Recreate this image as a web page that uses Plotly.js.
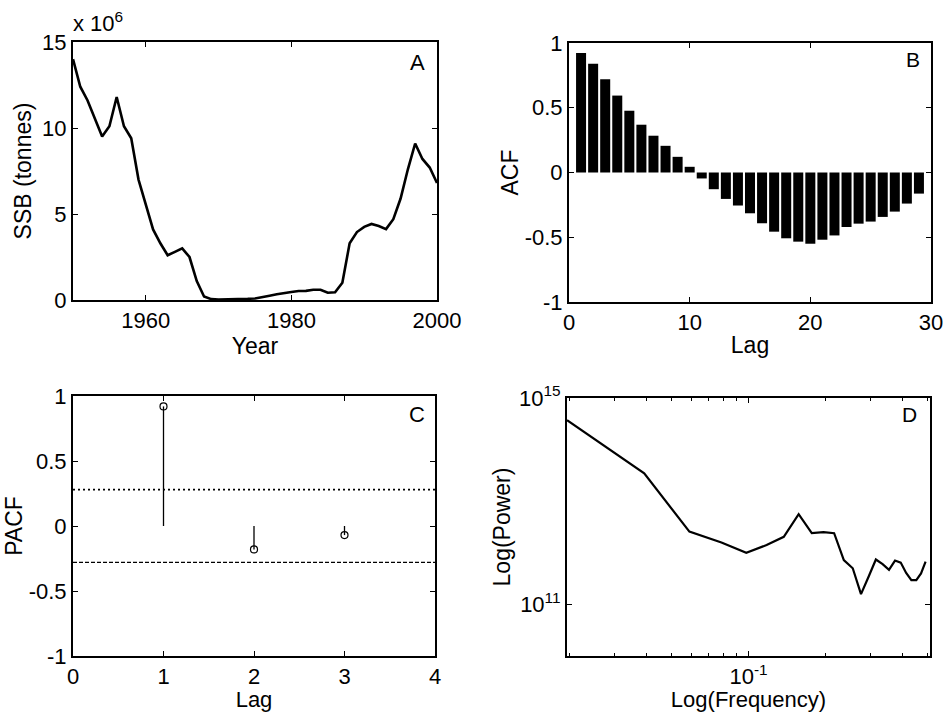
<!DOCTYPE html>
<html>
<head>
<meta charset="utf-8">
<script src="https://cdn.plot.ly/plotly-3.0.1.min.js"></script>
<style>html,body{margin:0;padding:0;background:#fff;}#chart{width:943px;height:712px;}</style>
</head>
<body>
<div id="chart"></div>
<script>
// Panel A: spawning stock biomass (x 10^6 tonnes)
const years = [1950,1951,1952,1953,1954,1955,1956,1957,1958,1959,1960,1961,1962,1963,1964,1965,1966,1967,1968,1969,1970,1971,1972,1973,1974,1975,1976,1977,1978,1979,1980,1981,1982,1983,1984,1985,1986,1987,1988,1989,1990,1991,1992,1993,1994,1995,1996,1997,1998,1999,2000];
const ssb = [14.0,12.4,11.6,10.6,9.5,10.1,11.8,10.1,9.4,7.0,5.5,4.1,3.3,2.6,2.8,3.0,2.5,1.1,0.2,0.05,0.03,0.03,0.04,0.05,0.07,0.09,0.15,0.25,0.33,0.42,0.47,0.52,0.53,0.6,0.6,0.42,0.45,1.0,3.3,3.95,4.25,4.42,4.3,4.12,4.7,5.9,7.6,9.1,8.2,7.7,6.8];

// Panel B: autocorrelation function
const acfLags = [1,2,3,4,5,6,7,8,9,10,11,12,13,14,15,16,17,18,19,20,21,22,23,24,25,26,27,28,29];
const acfValues = [0.922,0.839,0.72,0.594,0.477,0.369,0.284,0.206,0.121,0.044,-0.046,-0.129,-0.204,-0.255,-0.315,-0.392,-0.457,-0.508,-0.534,-0.55,-0.519,-0.486,-0.421,-0.395,-0.379,-0.343,-0.302,-0.24,-0.163];

// Panel C: partial autocorrelation function
const pacfLags = [1,2,3];
const pacfValues = [0.92,-0.18,-0.07];
const pacfConfUpper = 0.28;
const pacfConfLower = -0.28;
const pacfLagRange = [0,4];

// Panel D: power spectrum
const specK = [1,2,3,4,5,6,7,8,9,10,11,12,13,14,15,16,17,18,19,20,21,22,23,24,25];
const specN = 51;
const specLog10Power = [14.57,13.54,12.41,12.2,12.0,12.15,12.31,12.75,12.38,12.40,12.38,11.86,11.70,11.20,11.54,11.87,11.78,11.67,11.85,11.81,11.61,11.47,11.47,11.60,11.83];
const specFreq = specK.map(k => k / specN);
const specPower = specLog10Power.map(v => Math.pow(10, v));

// stems for PACF
const stemX = [], stemY = [];
pacfLags.forEach((l, i) => { stemX.push(l, l, null); stemY.push(0, pacfValues[i], null); });

const FONT = 'Liberation Sans, Arial, Helvetica, sans-serif';
const TICK = 22, TITLE = 23;
const W = 943, H = 712;
function dx(a, b) { return [a / W, b / W]; }
function dy(top, bottom) { return [1 - bottom / H, 1 - top / H]; }
function ttl(text, standoff, size) { return {text: text, standoff: standoff, font: {family: FONT, size: size || TITLE, color: 'black'}}; }

function ax(extra) {
  return Object.assign({
    showline: true, linecolor: 'black', linewidth: 2, mirror: 'ticks',
    ticks: 'inside', ticklen: 5, tickwidth: 1, tickcolor: 'black',
    showgrid: false, zeroline: false, automargin: false, ticklabeloverflow: 'allow',
    tickfont: {family: FONT, size: TICK, color: 'black'}
  }, extra);
}

const traces = [
  {x: years, y: ssb, type: 'scatter', mode: 'lines', line: {color: 'black', width: 2.6}, xaxis: 'x', yaxis: 'y', hoverinfo: 'skip'},
  {x: acfLags, y: acfValues, type: 'bar', marker: {color: 'black', line: {width: 0}}, width: 0.83, xaxis: 'x2', yaxis: 'y2', hoverinfo: 'skip'},
  {x: pacfLagRange, y: [pacfConfUpper, pacfConfUpper], type: 'scatter', mode: 'lines', line: {color: 'black', width: 1.8, dash: '2px,3px'}, xaxis: 'x3', yaxis: 'y3', hoverinfo: 'skip'},
  {x: pacfLagRange, y: [pacfConfLower, pacfConfLower], type: 'scatter', mode: 'lines', line: {color: 'black', width: 1.3, dash: '4px,2px'}, xaxis: 'x3', yaxis: 'y3', hoverinfo: 'skip'},
  {x: stemX, y: stemY, type: 'scatter', mode: 'lines', line: {color: 'black', width: 1.3}, xaxis: 'x3', yaxis: 'y3', hoverinfo: 'skip'},
  {x: pacfLags, y: pacfValues, type: 'scatter', mode: 'markers', marker: {symbol: 'circle-open', size: 7, color: 'black', line: {width: 1.2}}, xaxis: 'x3', yaxis: 'y3', hoverinfo: 'skip'},
  {x: specFreq, y: specPower, type: 'scatter', mode: 'lines', line: {color: 'black', width: 2.2}, xaxis: 'x4', yaxis: 'y4', hoverinfo: 'skip'}
];

const layout = {
  width: W, height: H,
  margin: {l: 0, r: 0, t: 0, b: 0},
  paper_bgcolor: 'white', plot_bgcolor: 'white',
  showlegend: false,
  font: {family: FONT, color: 'black'},
  xaxis: ax({domain: dx(73, 437), anchor: 'y', range: [1950, 2000], tickvals: [1960, 1980, 2000], title: ttl('Year', 2)}),
  yaxis: ax({domain: dy(42, 300), anchor: 'x', range: [0, 15], tickvals: [0, 5, 10, 15], title: ttl('SSB (tonnes)', 4)}),
  xaxis2: ax({domain: dx(569, 931), anchor: 'y2', range: [0, 30], tickvals: [0, 10, 20, 30], title: ttl('Lag', 2)}),
  yaxis2: ax({domain: dy(43, 302), anchor: 'x2', range: [-1, 1], tickvals: [-1, -0.5, 0, 0.5, 1], ticktext: ['-1', '-0.5', '0', '0.5', '1'], title: ttl('ACF', 0)}),
  xaxis3: ax({domain: dx(73, 435), anchor: 'y3', range: [0, 4], tickvals: [0, 1, 2, 3, 4], title: ttl('Lag', 5, 22)}),
  yaxis3: ax({domain: dy(396, 656), anchor: 'x3', range: [-1, 1], tickvals: [-1, -0.5, 0, 0.5, 1], ticktext: ['-1', '-0.5', '0', '0.5', '1'], title: ttl('PACF', 0)}),
  xaxis4: ax({domain: dx(567, 930), anchor: 'y4', type: 'log', range: [Math.log10(1 / 51), Math.log10(0.51)], tickvals: [0.1], ticktext: ['10<sup>-1</sup>'],
    minor: {tickvals: [0.02, 0.03, 0.04, 0.05, 0.06, 0.07, 0.08, 0.09, 0.2, 0.3, 0.4, 0.5], ticks: 'inside', ticklen: 3, tickcolor: 'black', tickwidth: 1},
    title: ttl('Log(Frequency)', 5, 22)}),
  yaxis4: ax({domain: dy(398, 656), anchor: 'x4', type: 'log', range: [10, 15], tickvals: [1e11, 1e15], ticktext: ['10<sup>11</sup>', '10<sup>15</sup>'], title: ttl('Log(Power)', 2)}),
  annotations: [
    {text: 'x 10<sup>6</sup>', xref: 'paper', yref: 'paper', x: 71 / W, y: 1 - 38 / H, xanchor: 'left', yanchor: 'bottom', showarrow: false, font: {family: FONT, size: 22, color: 'black'}},
    {text: 'A', xref: 'paper', yref: 'paper', x: 417 / W, y: 1 - 62 / H, xanchor: 'center', yanchor: 'middle', showarrow: false, font: {family: FONT, size: 22, color: 'black'}},
    {text: 'B', xref: 'paper', yref: 'paper', x: 913 / W, y: 1 - 60 / H, xanchor: 'center', yanchor: 'middle', showarrow: false, font: {family: FONT, size: 21, color: 'black'}},
    {text: 'C', xref: 'paper', yref: 'paper', x: 417 / W, y: 1 - 414 / H, xanchor: 'center', yanchor: 'middle', showarrow: false, font: {family: FONT, size: 22, color: 'black'}},
    {text: 'D', xref: 'paper', yref: 'paper', x: 909 / W, y: 1 - 415 / H, xanchor: 'center', yanchor: 'middle', showarrow: false, font: {family: FONT, size: 21, color: 'black'}}
  ]
};

Plotly.newPlot('chart', traces, layout, {staticPlot: true, displayModeBar: false});
</script>
</body>
</html>
